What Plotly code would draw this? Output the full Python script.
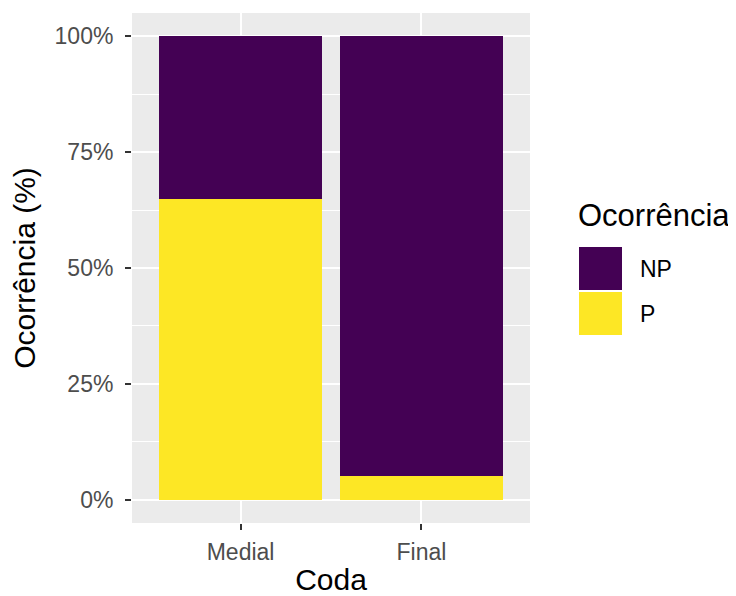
import plotly.graph_objects as go

# ---- data ----
categories = ["Medial", "Final"]
series_names = ["P", "NP"]          # stacking order: bottom to top
p_values = [64.9, 5.1]
np_values = [35.1, 94.9]
series_colors = {"NP": "#440154", "P": "#FDE725"}
legend_order = ["NP", "P"]
y_tickvals = [0, 25, 50, 75, 100]
y_ticktext = ["0%", "25%", "50%", "75%", "100%"]
x_title = "Coda"
y_title = "Ocorrência (%)"
legend_title = "Ocorrência"

values = {"P": p_values, "NP": np_values}

# page body has an 8px margin: lay the figure out in screen pixels, then offset
OFF = 8
W, H = 736 - OFF, 596 - OFF
ML, MT = 132 - OFF, 13 - OFF
MR = W - (530 - OFF)
MB = H - (523 - OFF)
PW = W - ML - MR
PH = H - MT - MB

FONT = "Liberation Sans, Arial, sans-serif"

fig = go.Figure()
for name in series_names:
    fig.add_trace(go.Bar(
        x=categories, y=values[name], name=name,
        marker=dict(color=series_colors[name], line=dict(width=0)),
        width=0.9, showlegend=False,
    ))

fig.update_layout(
    width=W, height=H,
    margin=dict(l=ML, r=MR, t=MT, b=MB),
    barmode="stack",
    paper_bgcolor="white",
    plot_bgcolor="#EBEBEB",
    font=dict(family=FONT, color="#4D4D4D", size=23),
    xaxis=dict(
        type="category", categoryorder="array", categoryarray=categories,
        range=[-0.6, 1.6], automargin=False,
        showgrid=True, gridcolor="white", gridwidth=2,
        ticks="outside", ticklen=6, tickwidth=1.5, tickcolor="#333333",
        ticklabelstandoff=2,
        tickfont=dict(size=23, color="#4D4D4D"),
        title=dict(text=x_title, font=dict(size=30, color="black"), standoff=12),
        zeroline=False, showline=False,
    ),
    yaxis=dict(
        range=[-5, 105], automargin=False,
        tickvals=y_tickvals, ticktext=y_ticktext,
        showgrid=True, gridcolor="white", gridwidth=2,
        minor=dict(tickvals=[12.5, 37.5, 62.5, 87.5], showgrid=True,
                   gridcolor="white", gridwidth=1, ticks=""),
        ticks="outside", ticklen=6, tickwidth=1.5, tickcolor="#333333",
        ticklabelstandoff=7,
        tickfont=dict(size=23, color="#4D4D4D"),
        title=dict(text=y_title, font=dict(size=30, color="black"), standoff=12),
        zeroline=False, showline=False,
    ),
)

# ---- custom ggplot-style legend (positions given in screen pixels) ----
def px_x(px):
    return (px - OFF - ML) / PW

def px_y(py):
    return (H - MB - (py - OFF)) / PH

key_left, key_size, key_gap = 579, 43, 2
title_y = 215
first_key_top = 247
fig.add_annotation(
    x=px_x(key_left - 3), y=px_y(title_y), xref="paper", yref="paper",
    text=legend_title, showarrow=False, xanchor="left", yanchor="middle",
    font=dict(family=FONT, size=31, color="black"),
)
for i, name in enumerate(legend_order):
    top = first_key_top + i * (key_size + key_gap)
    fig.add_shape(
        type="rect", xref="paper", yref="paper",
        x0=px_x(key_left), x1=px_x(key_left + key_size),
        y0=px_y(top + key_size), y1=px_y(top),
        fillcolor=series_colors[name], line=dict(width=0),
    )
    fig.add_annotation(
        x=px_x(key_left + key_size + 16), y=px_y(top + key_size / 2),
        xref="paper", yref="paper", text=name, showarrow=False,
        xanchor="left", yanchor="middle",
        font=dict(family=FONT, size=23, color="black"),
    )

fig.write_html("out.html")
